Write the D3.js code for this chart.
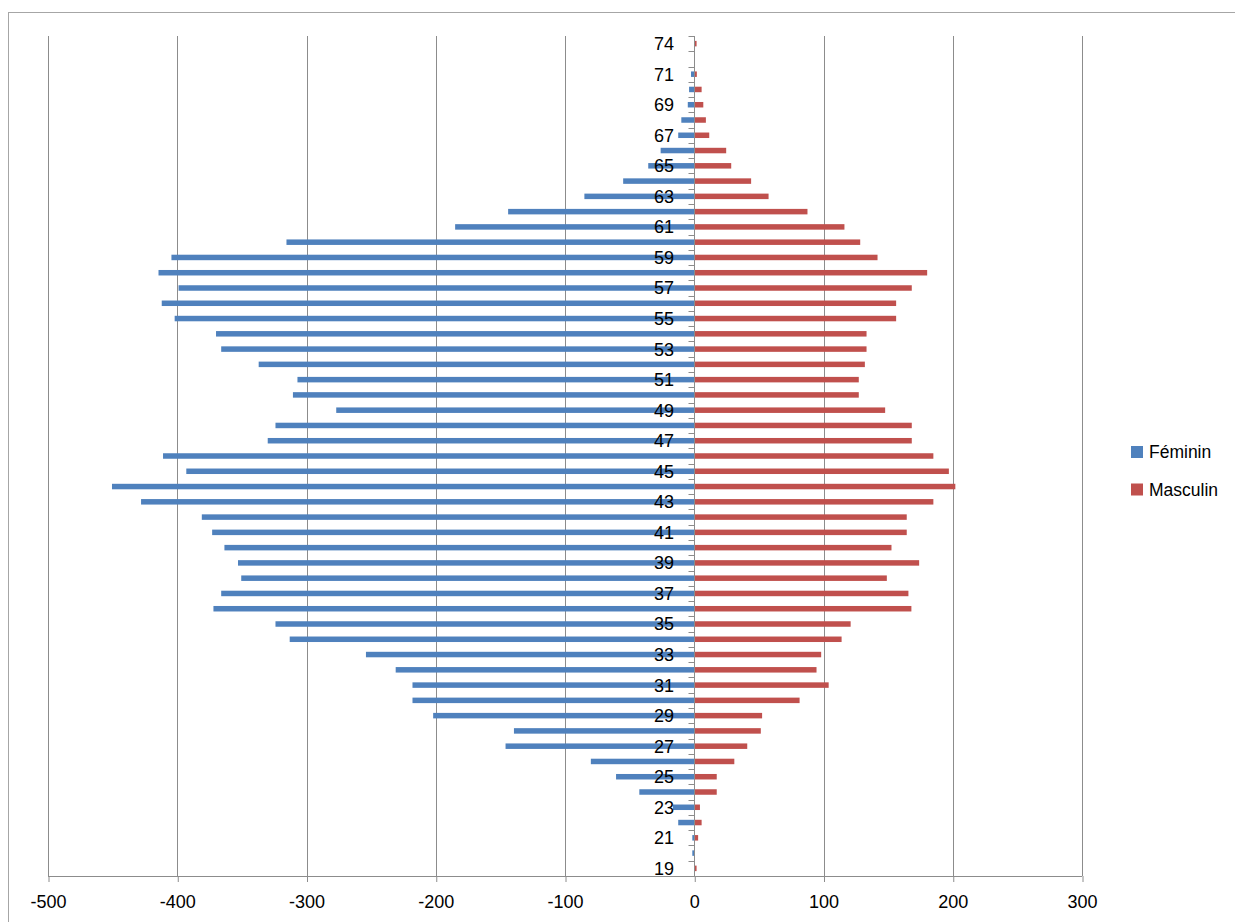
<!DOCTYPE html>
<html>
<head>
<meta charset="utf-8">
<script src="https://cdn.jsdelivr.net/npm/d3@7/dist/d3.min.js"></script>
<style>
  html, body { margin: 0; padding: 0; background: #fff; }
  svg { display: block; font-family: "Liberation Sans", Arial, sans-serif; }
</style>
</head>
<body>
<svg id="chart" width="1235" height="922"></svg>
<script>
// Age groups (bottom to top)
const ages = [19, 20, 21, 22, 23, 24, 25, 26, 27, 28, 29, 30, 31, 32, 33, 34, 35, 36, 37, 38, 39,
  40, 41, 42, 43, 44, 45, 46, 47, 48, 49, 50, 51, 52, 53, 54, 55, 56, 57, 58, 59, 60,
  61, 62, 63, 64, 65, 66, 67, 68, 69, 70, 71, 72, 74];

// Women, plotted as negative counts
const feminin = [0, -1.5, -1.5, -12.4, -16.5, -42.5, -60.5, -80, -146, -139.5, -202, -218, -218, -231, -254, -313, -324, -372, -366, -350.5, -353,
  -363.5, -373, -381, -428, -450.5, -393, -411, -330, -324, -277, -310.5, -307, -337, -366, -370, -402, -412, -399, -414.5, -404.5, -315.5,
  -185, -144, -85, -55, -35.6, -26, -12.4, -10, -5, -4, -2.5, 0, 0];

// Men
const masculin = [1.8, 0, 3, 5.7, 4.4, 17.4, 17.4, 31, 41, 51.5, 52.5, 81.5, 104, 94.6, 98.2, 114, 121, 168, 165.7, 149, 174,
  152.6, 164.4, 164.4, 185, 202, 197, 185, 168.3, 168.3, 147.7, 127.3, 127.3, 132, 133.3, 133.3, 156.2, 156.2, 168.3, 180.2, 141.8, 128.4,
  116.2, 87.6, 57.5, 44, 28.6, 24.7, 11.6, 9, 7, 5.7, 2, 0, 1.8];

const xTicks = [-500, -400, -300, -200, -100, 0, 100, 200, 300];
const seriesNames = ["Féminin", "Masculin"];
const seriesColors = ["#4F81BD", "#C0504D"];

const svg = d3.select("#chart");
const gridColor = "#8c8c8c";

// Outer chart frame
svg.append("rect")
  .attr("x", 8.5).attr("y", 12.5)
  .attr("width", 1300).attr("height", 1000)
  .attr("fill", "none").attr("stroke", "#a6a6a6").attr("stroke-width", 1);

const x = d3.scaleLinear().domain([-500, 300]).range([48, 1082]);
const y = d3.scaleBand().domain(ages.slice().reverse()).range([36, 876]);
const barH = y.bandwidth() * 0.36;

// Vertical gridlines
svg.append("g")
  .selectAll("line")
  .data(xTicks.filter(t => t !== 0))
  .join("line")
  .attr("x1", d => Math.round(x(d)) + 0.5).attr("x2", d => Math.round(x(d)) + 0.5)
  .attr("y1", 36).attr("y2", 876)
  .attr("stroke", gridColor).attr("stroke-width", 1);

// Bottom axis (plain hyphen for negatives)
const xAxis = d3.axisBottom(x).tickValues(xTicks).tickSize(6).tickPadding(13).tickFormat(d => String(d));
const gx = svg.append("g").attr("transform", "translate(0,876)").call(xAxis);
gx.select(".domain").attr("stroke", gridColor).attr("d", `M${x(-500)},0.5H${x(300)}`);
gx.selectAll(".tick line").attr("stroke", gridColor).attr("transform", "translate(0.5,0)");
gx.selectAll(".tick text").attr("font-size", 18).attr("fill", "#000")
  .attr("font-family", "Liberation Sans, Arial, sans-serif");

// Bars
const rows = ages.map((a, i) => ({ age: a, f: feminin[i], m: masculin[i] }));
const bars = svg.append("g");
bars.selectAll("rect.f")
  .data(rows)
  .join("rect").attr("class", "f")
  .attr("x", d => x(Math.min(0, d.f)))
  .attr("width", d => Math.abs(x(d.f) - x(0)))
  .attr("y", d => y(d.age) + (y.bandwidth() - barH) / 2)
  .attr("height", barH)
  .attr("fill", seriesColors[0]);
bars.selectAll("rect.m")
  .data(rows)
  .join("rect").attr("class", "m")
  .attr("x", x(0))
  .attr("width", d => Math.abs(x(d.m) - x(0)))
  .attr("y", d => y(d.age) + (y.bandwidth() - barH) / 2)
  .attr("height", barH)
  .attr("fill", seriesColors[1]);

// Category axis at zero with boundary ticks
const zx = Math.round(x(0)) + 0.5;
const gy = svg.append("g");
gy.append("line")
  .attr("x1", zx).attr("x2", zx).attr("y1", 36).attr("y2", 876)
  .attr("stroke", gridColor).attr("stroke-width", 1);
const bounds = ages.map(a => y(a)).concat([876]);
gy.selectAll("line.tk")
  .data(bounds)
  .join("line").attr("class", "tk")
  .attr("x1", zx - 6).attr("x2", zx)
  .attr("y1", d => Math.round(d) + 0.5).attr("y2", d => Math.round(d) + 0.5)
  .attr("stroke", gridColor).attr("stroke-width", 1);

// Category labels every other age, drawn over the bars
const labelled = ages.filter((a, i) => i % 2 === 0);
gy.selectAll("text")
  .data(labelled)
  .join("text")
  .attr("x", 674)
  .attr("y", d => y(d) + y.bandwidth() / 2)
  .attr("dy", "0.36em")
  .attr("text-anchor", "end")
  .attr("font-size", 18)
  .attr("fill", "#000")
  .text(d => d);

// Legend
const legend = svg.append("g").attr("transform", "translate(1131,446)");
const items = legend.selectAll("g")
  .data(seriesNames)
  .join("g")
  .attr("transform", (d, i) => `translate(0,${i * 37.5})`);
items.append("rect")
  .attr("width", 12).attr("height", 12)
  .attr("fill", (d, i) => seriesColors[i]);
items.append("text")
  .attr("x", 18).attr("y", 6).attr("dy", "0.36em")
  .attr("font-size", 17.5).attr("fill", "#000")
  .text(d => d);
</script>
</body>
</html>
